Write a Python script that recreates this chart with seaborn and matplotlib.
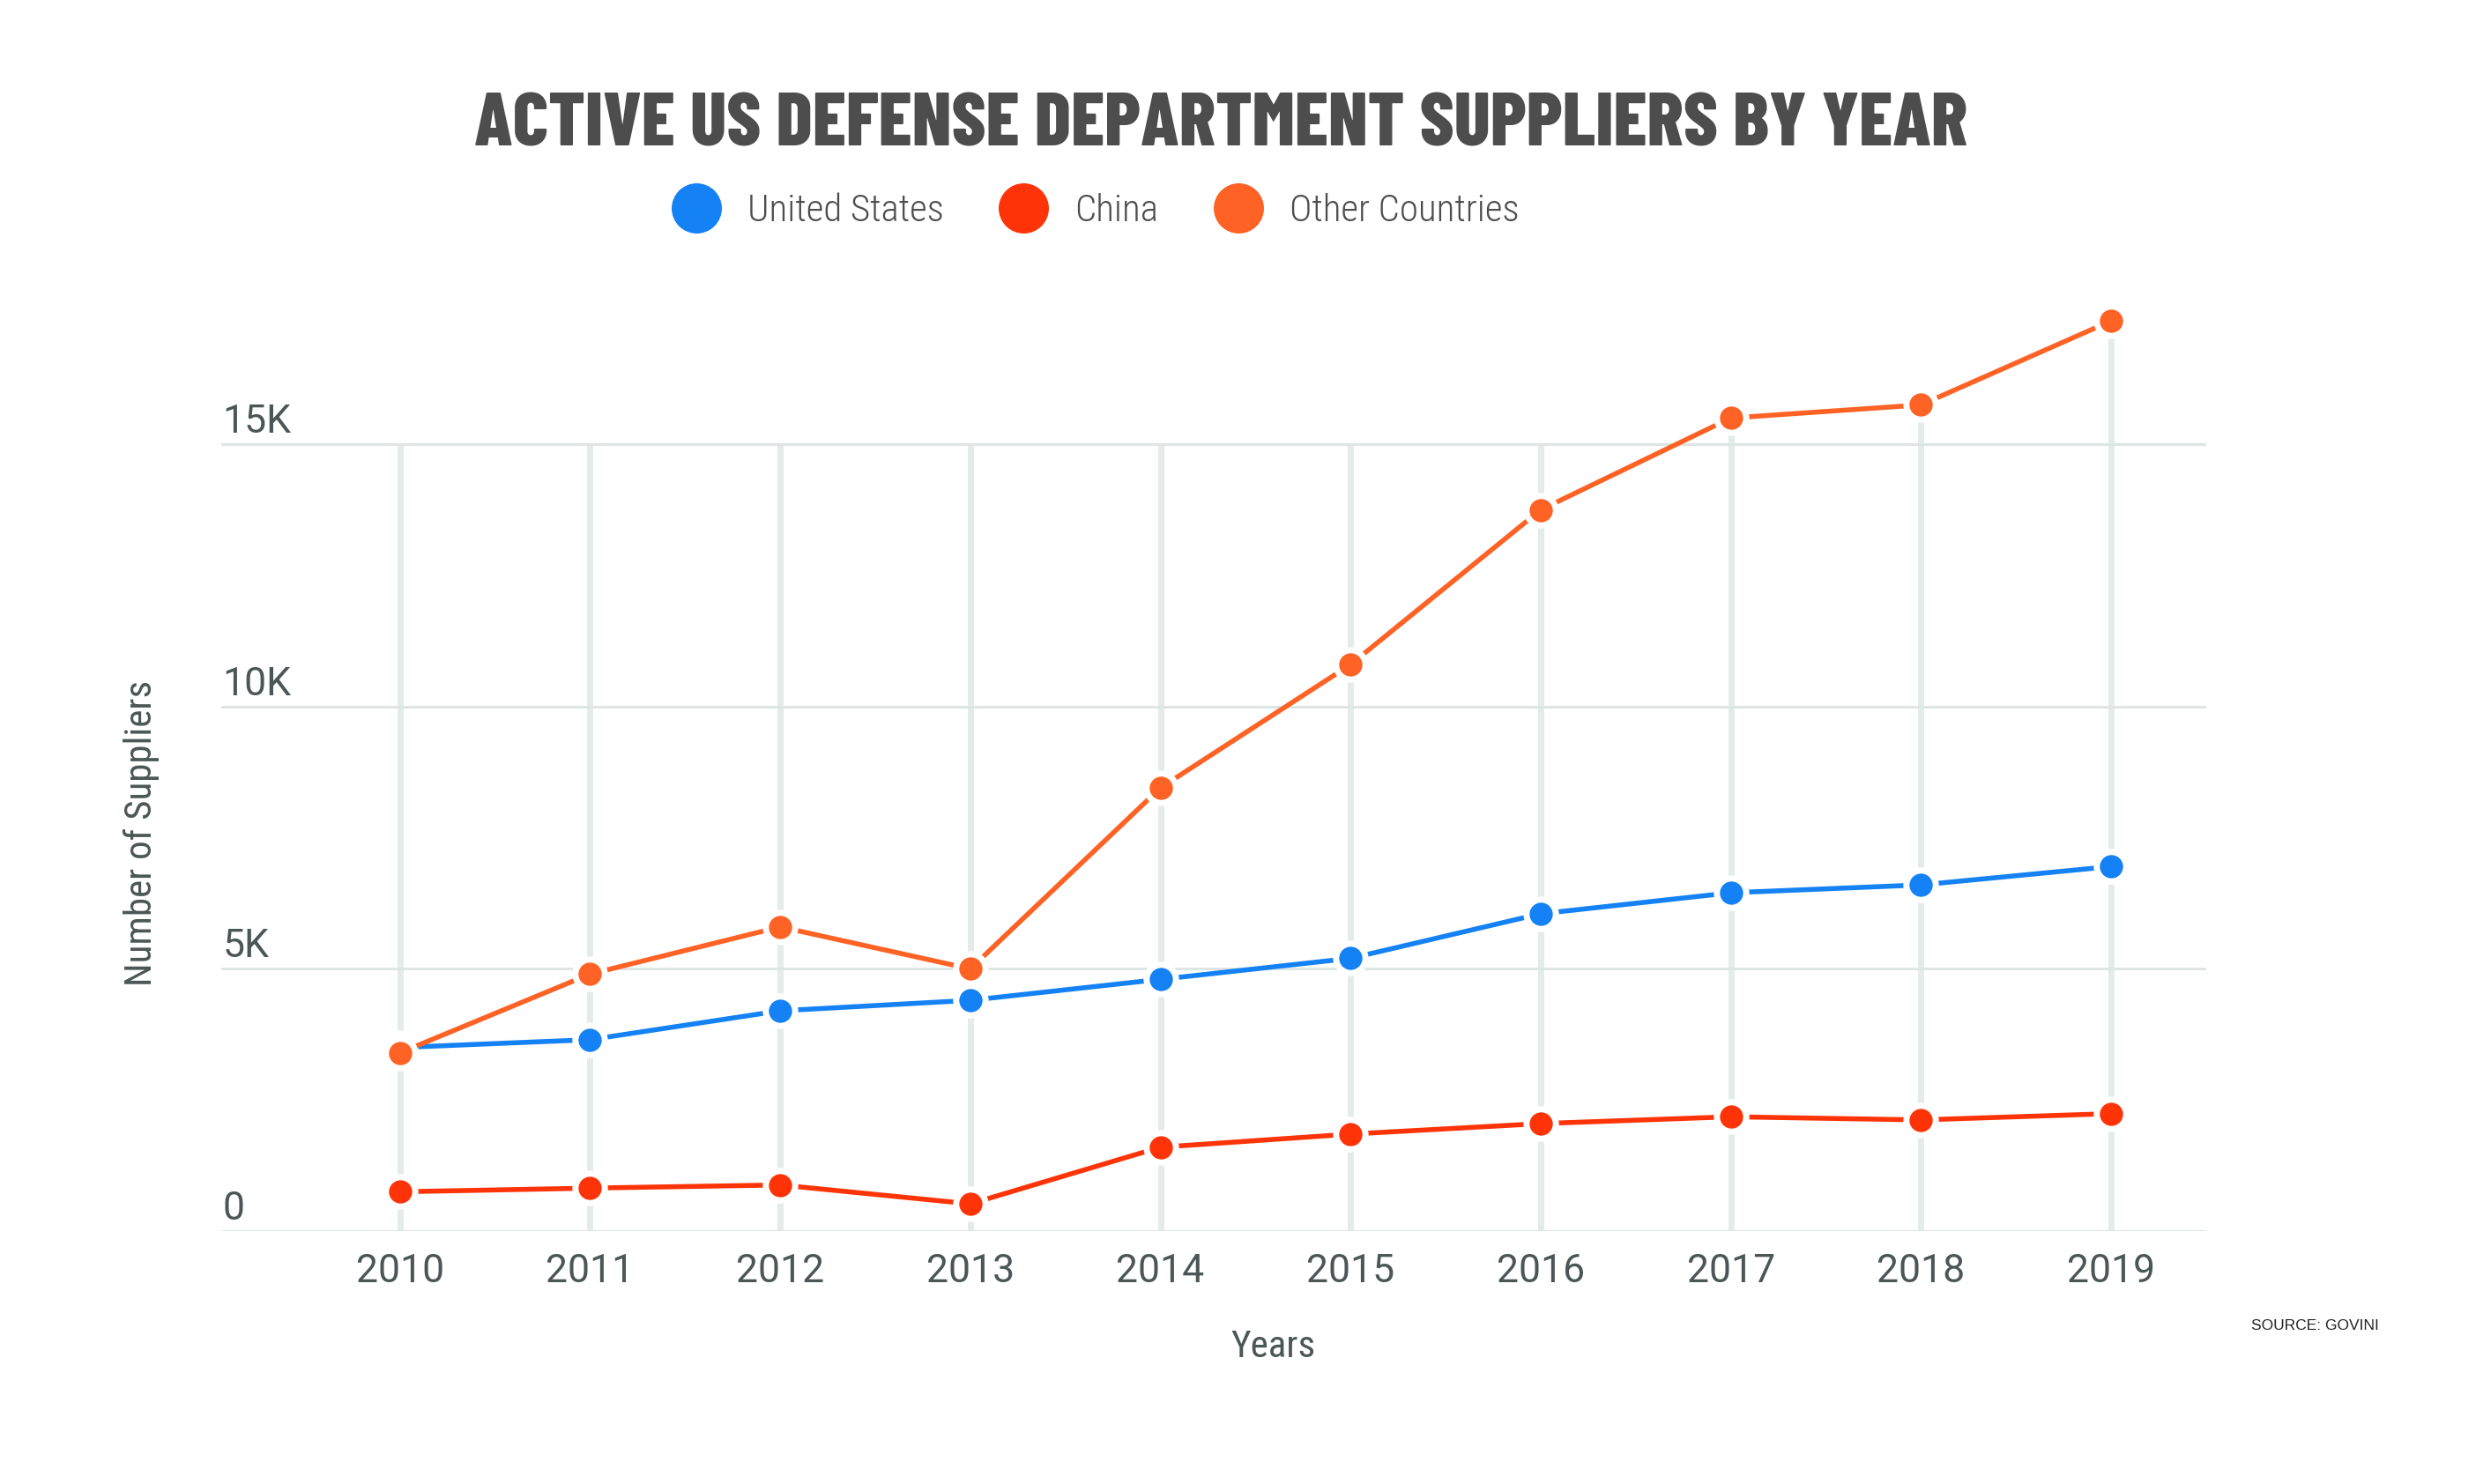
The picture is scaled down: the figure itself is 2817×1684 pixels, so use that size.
import numpy as np
import pandas as pd
import seaborn as sns
import matplotlib.pyplot as plt
from matplotlib.lines import Line2D
import matplotlib.transforms as mtransforms

years = [2010, 2011, 2012, 2013, 2014, 2015, 2016, 2017, 2018, 2019]
us = [3500, 3650, 4200, 4400, 4800, 5200, 6050, 6450, 6600, 6950]
china = [750, 820, 880, 520, 1600, 1850, 2050, 2180, 2120, 2240]
other = [3400, 4900, 5800, 5000, 8450, 10800, 13750, 15500, 15750, 17350]
series_names = ["United States", "China", "Other Countries"]
colors = ["#1482f5", "#fe3408", "#fe6224"]
ytick_vals = [0, 5000, 10000, 15000]
ytick_labels = ["0", "5K", "10K", "15K"]

df = pd.concat([
    pd.DataFrame({"year": years, "suppliers": vals, "country": name})
    for name, vals in zip(series_names, [us, china, other])
])

sns.set_theme(style="white")
plt.rcParams["font.family"] = ["Roboto", "DejaVu Sans"]
narrow = ["Roboto Condensed", "DejaVu Sans"]
title_font = ["Barlow Condensed", "Roboto Condensed", "DejaVu Sans"]

fig = plt.figure(figsize=(28.17, 16.84), dpi=100)
ax = fig.add_axes([0.0891, 0.1704, 0.7994, 0.6363])

grid_col = "#dde6e4"
text_col = "#4b5657"

# vertical guides run up to 15K or to the top point, whichever is higher
ax.vlines(years, 0, np.maximum(15000, other), color="#e4ecea", lw=5, zorder=0)
for v in ytick_vals:
    ax.axhline(v, color=grid_col, lw=2.2, zorder=0)

sns.lineplot(
    data=df, x="year", y="suppliers", hue="country",
    hue_order=series_names, palette=colors, ax=ax, legend=False,
    marker="o", markersize=24, markeredgecolor="white", markeredgewidth=5,
    linewidth=4, zorder=3,
)

ax.set_xlim(2009.06, 2019.5)
ax.set_ylim(0, 18000)
for s in ax.spines.values():
    s.set_visible(False)

ax.set_xticks(years)
ax.set_xticklabels([str(y) for y in years])
ax.tick_params(axis="x", length=0, pad=18, labelsize=32, labelcolor=text_col)
ax.set_yticks([])
ax.set_xlabel("")
ax.set_ylabel("")

trans = mtransforms.blended_transform_factory(ax.transAxes, ax.transData)
for v, lab in zip(ytick_vals, ytick_labels):
    ax.annotate(lab, xy=(0, v), xycoords=trans, xytext=(1, 3),
                textcoords="offset points", ha="left", va="bottom",
                fontsize=32, color=text_col)

fig.text(0.5128, 0.0925, "Years", ha="center", va="center",
         fontsize=31, color=text_col, family=narrow)
fig.text(0.0568, 0.4385, "Number of Suppliers", ha="center", va="center",
         rotation=90, fontsize=31, color=text_col, family=narrow)

fig.text(0.4917, 0.915, "ACTIVE US DEFENSE DEPARTMENT SUPPLIERS BY YEAR",
         ha="center", va="center", fontsize=62, fontweight="heavy",
         color="#4d4d4d", family=title_font)

fig.text(0.958, 0.1065, "SOURCE: GOVINI", ha="right", va="center",
         fontsize=12.5, color="#222222", family=["Liberation Sans", "DejaVu Sans"])

handles = [Line2D([], [], marker="o", linestyle="none", markersize=40,
                  markerfacecolor=c, markeredgecolor=c) for c in colors]
fig.legend(handles, series_names, loc="center", bbox_to_anchor=(0.4385, 0.8575),
           ncol=3, frameon=False, handletextpad=0.35, columnspacing=1.1,
           prop={"family": narrow, "size": 31, "weight": "light"},
           labelcolor="#4d4d4d")

fig.savefig("out.png", dpi=100, facecolor="white")
